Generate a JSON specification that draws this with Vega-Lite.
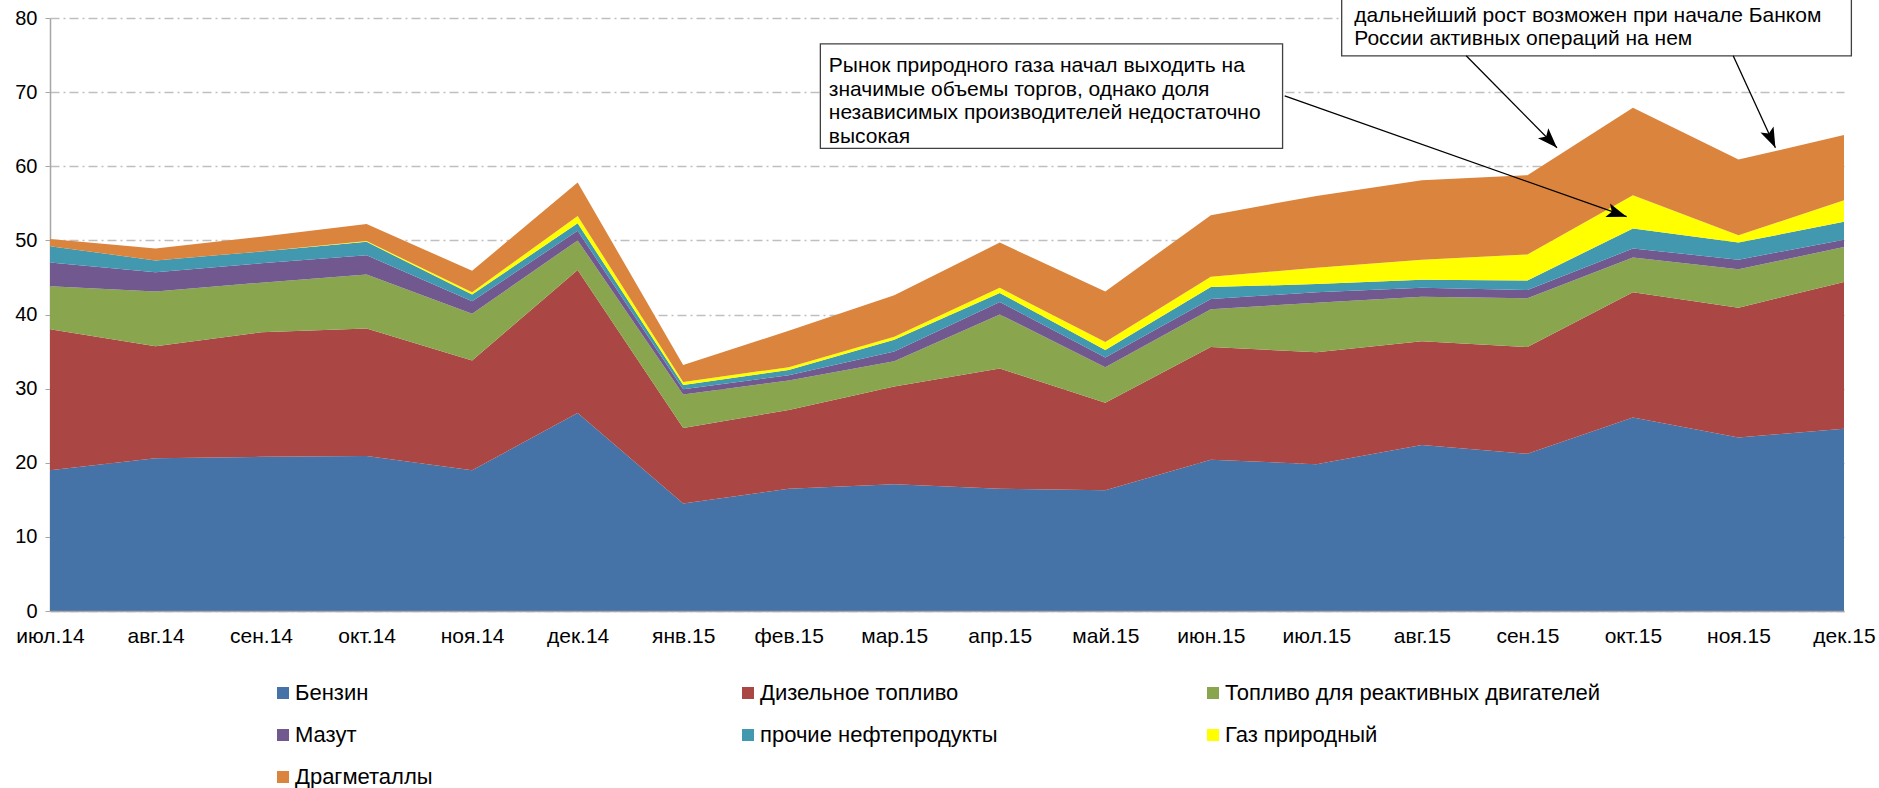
{
  "$schema": "https://vega.github.io/schema/vega-lite/v6.json",
  "width": 1794,
  "height": 593,
  "autosize": {"type": "none"},
  "padding": {"top": 18, "left": 50, "right": 35, "bottom": 177},
  "background": "white",
  "config": {
    "view": {"stroke": null},
    "font": "Liberation Sans",
    "text": {"font": "Liberation Sans"}
  },
  "datasets": {
    "main": [
      {"i":0,"m":"июл.14","k":1,"s":"Бензин","v":19.0},{"i":0,"m":"июл.14","k":2,"s":"Дизельное топливо","v":19.0},{"i":0,"m":"июл.14","k":3,"s":"Топливо для реактивных двигателей","v":5.8},{"i":0,"m":"июл.14","k":4,"s":"Мазут","v":3.2},{"i":0,"m":"июл.14","k":5,"s":"прочие нефтепродукты","v":2.2},{"i":0,"m":"июл.14","k":6,"s":"Газ природный","v":0.0},{"i":0,"m":"июл.14","k":7,"s":"Драгметаллы","v":1.0},
      {"i":1,"m":"авг.14","k":1,"s":"Бензин","v":20.6},{"i":1,"m":"авг.14","k":2,"s":"Дизельное топливо","v":15.1},{"i":1,"m":"авг.14","k":3,"s":"Топливо для реактивных двигателей","v":7.4},{"i":1,"m":"авг.14","k":4,"s":"Мазут","v":2.6},{"i":1,"m":"авг.14","k":5,"s":"прочие нефтепродукты","v":1.6},{"i":1,"m":"авг.14","k":6,"s":"Газ природный","v":0.0},{"i":1,"m":"авг.14","k":7,"s":"Драгметаллы","v":1.6},
      {"i":2,"m":"сен.14","k":1,"s":"Бензин","v":20.8},{"i":2,"m":"сен.14","k":2,"s":"Дизельное топливо","v":16.8},{"i":2,"m":"сен.14","k":3,"s":"Топливо для реактивных двигателей","v":6.7},{"i":2,"m":"сен.14","k":4,"s":"Мазут","v":2.6},{"i":2,"m":"сен.14","k":5,"s":"прочие нефтепродукты","v":1.6},{"i":2,"m":"сен.14","k":6,"s":"Газ природный","v":0.0},{"i":2,"m":"сен.14","k":7,"s":"Драгметаллы","v":2.0},
      {"i":3,"m":"окт.14","k":1,"s":"Бензин","v":20.9},{"i":3,"m":"окт.14","k":2,"s":"Дизельное топливо","v":17.2},{"i":3,"m":"окт.14","k":3,"s":"Топливо для реактивных двигателей","v":7.3},{"i":3,"m":"окт.14","k":4,"s":"Мазут","v":2.6},{"i":3,"m":"окт.14","k":5,"s":"прочие нефтепродукты","v":1.8},{"i":3,"m":"окт.14","k":6,"s":"Газ природный","v":0.1},{"i":3,"m":"окт.14","k":7,"s":"Драгметаллы","v":2.3},
      {"i":4,"m":"ноя.14","k":1,"s":"Бензин","v":19.0},{"i":4,"m":"ноя.14","k":2,"s":"Дизельное топливо","v":14.8},{"i":4,"m":"ноя.14","k":3,"s":"Топливо для реактивных двигателей","v":6.3},{"i":4,"m":"ноя.14","k":4,"s":"Мазут","v":1.7},{"i":4,"m":"ноя.14","k":5,"s":"прочие нефтепродукты","v":0.9},{"i":4,"m":"ноя.14","k":6,"s":"Газ природный","v":0.3},{"i":4,"m":"ноя.14","k":7,"s":"Драгметаллы","v":2.9},
      {"i":5,"m":"дек.14","k":1,"s":"Бензин","v":26.7},{"i":5,"m":"дек.14","k":2,"s":"Дизельное топливо","v":19.3},{"i":5,"m":"дек.14","k":3,"s":"Топливо для реактивных двигателей","v":4.0},{"i":5,"m":"дек.14","k":4,"s":"Мазут","v":1.3},{"i":5,"m":"дек.14","k":5,"s":"прочие нефтепродукты","v":1.0},{"i":5,"m":"дек.14","k":6,"s":"Газ природный","v":1.0},{"i":5,"m":"дек.14","k":7,"s":"Драгметаллы","v":4.5},
      {"i":6,"m":"янв.15","k":1,"s":"Бензин","v":14.5},{"i":6,"m":"янв.15","k":2,"s":"Дизельное топливо","v":10.2},{"i":6,"m":"янв.15","k":3,"s":"Топливо для реактивных двигателей","v":4.5},{"i":6,"m":"янв.15","k":4,"s":"Мазут","v":0.7},{"i":6,"m":"янв.15","k":5,"s":"прочие нефтепродукты","v":0.6},{"i":6,"m":"янв.15","k":6,"s":"Газ природный","v":0.4},{"i":6,"m":"янв.15","k":7,"s":"Драгметаллы","v":2.3},
      {"i":7,"m":"фев.15","k":1,"s":"Бензин","v":16.5},{"i":7,"m":"фев.15","k":2,"s":"Дизельное топливо","v":10.6},{"i":7,"m":"фев.15","k":3,"s":"Топливо для реактивных двигателей","v":4.0},{"i":7,"m":"фев.15","k":4,"s":"Мазут","v":0.7},{"i":7,"m":"фев.15","k":5,"s":"прочие нефтепродукты","v":0.7},{"i":7,"m":"фев.15","k":6,"s":"Газ природный","v":0.4},{"i":7,"m":"фев.15","k":7,"s":"Драгметаллы","v":4.9},
      {"i":8,"m":"мар.15","k":1,"s":"Бензин","v":17.1},{"i":8,"m":"мар.15","k":2,"s":"Дизельное топливо","v":13.2},{"i":8,"m":"мар.15","k":3,"s":"Топливо для реактивных двигателей","v":3.4},{"i":8,"m":"мар.15","k":4,"s":"Мазут","v":1.3},{"i":8,"m":"мар.15","k":5,"s":"прочие нефтепродукты","v":1.6},{"i":8,"m":"мар.15","k":6,"s":"Газ природный","v":0.4},{"i":8,"m":"мар.15","k":7,"s":"Драгметаллы","v":5.6},
      {"i":9,"m":"апр.15","k":1,"s":"Бензин","v":16.5},{"i":9,"m":"апр.15","k":2,"s":"Дизельное топливо","v":16.2},{"i":9,"m":"апр.15","k":3,"s":"Топливо для реактивных двигателей","v":7.3},{"i":9,"m":"апр.15","k":4,"s":"Мазут","v":1.7},{"i":9,"m":"апр.15","k":5,"s":"прочие нефтепродукты","v":1.2},{"i":9,"m":"апр.15","k":6,"s":"Газ природный","v":0.7},{"i":9,"m":"апр.15","k":7,"s":"Драгметаллы","v":6.1},
      {"i":10,"m":"май.15","k":1,"s":"Бензин","v":16.3},{"i":10,"m":"май.15","k":2,"s":"Дизельное топливо","v":11.8},{"i":10,"m":"май.15","k":3,"s":"Топливо для реактивных двигателей","v":4.8},{"i":10,"m":"май.15","k":4,"s":"Мазут","v":1.3},{"i":10,"m":"май.15","k":5,"s":"прочие нефтепродукты","v":1.0},{"i":10,"m":"май.15","k":6,"s":"Газ природный","v":1.1},{"i":10,"m":"май.15","k":7,"s":"Драгметаллы","v":6.8},
      {"i":11,"m":"июн.15","k":1,"s":"Бензин","v":20.4},{"i":11,"m":"июн.15","k":2,"s":"Дизельное топливо","v":15.2},{"i":11,"m":"июн.15","k":3,"s":"Топливо для реактивных двигателей","v":5.1},{"i":11,"m":"июн.15","k":4,"s":"Мазут","v":1.4},{"i":11,"m":"июн.15","k":5,"s":"прочие нефтепродукты","v":1.6},{"i":11,"m":"июн.15","k":6,"s":"Газ природный","v":1.4},{"i":11,"m":"июн.15","k":7,"s":"Драгметаллы","v":8.3},
      {"i":12,"m":"июл.15","k":1,"s":"Бензин","v":19.8},{"i":12,"m":"июл.15","k":2,"s":"Дизельное топливо","v":15.1},{"i":12,"m":"июл.15","k":3,"s":"Топливо для реактивных двигателей","v":6.7},{"i":12,"m":"июл.15","k":4,"s":"Мазут","v":1.4},{"i":12,"m":"июл.15","k":5,"s":"прочие нефтепродукты","v":1.1},{"i":12,"m":"июл.15","k":6,"s":"Газ природный","v":2.2},{"i":12,"m":"июл.15","k":7,"s":"Драгметаллы","v":9.7},
      {"i":13,"m":"авг.15","k":1,"s":"Бензин","v":22.4},{"i":13,"m":"авг.15","k":2,"s":"Дизельное топливо","v":14.0},{"i":13,"m":"авг.15","k":3,"s":"Топливо для реактивных двигателей","v":6.0},{"i":13,"m":"авг.15","k":4,"s":"Мазут","v":1.2},{"i":13,"m":"авг.15","k":5,"s":"прочие нефтепродукты","v":1.1},{"i":13,"m":"авг.15","k":6,"s":"Газ природный","v":2.7},{"i":13,"m":"авг.15","k":7,"s":"Драгметаллы","v":10.7},
      {"i":14,"m":"сен.15","k":1,"s":"Бензин","v":21.2},{"i":14,"m":"сен.15","k":2,"s":"Дизельное топливо","v":14.4},{"i":14,"m":"сен.15","k":3,"s":"Топливо для реактивных двигателей","v":6.6},{"i":14,"m":"сен.15","k":4,"s":"Мазут","v":1.1},{"i":14,"m":"сен.15","k":5,"s":"прочие нефтепродукты","v":1.3},{"i":14,"m":"сен.15","k":6,"s":"Газ природный","v":3.5},{"i":14,"m":"сен.15","k":7,"s":"Драгметаллы","v":10.7},
      {"i":15,"m":"окт.15","k":1,"s":"Бензин","v":26.1},{"i":15,"m":"окт.15","k":2,"s":"Дизельное топливо","v":16.9},{"i":15,"m":"окт.15","k":3,"s":"Топливо для реактивных двигателей","v":4.7},{"i":15,"m":"окт.15","k":4,"s":"Мазут","v":1.2},{"i":15,"m":"окт.15","k":5,"s":"прочие нефтепродукты","v":2.7},{"i":15,"m":"окт.15","k":6,"s":"Газ природный","v":4.5},{"i":15,"m":"окт.15","k":7,"s":"Драгметаллы","v":11.8},
      {"i":16,"m":"ноя.15","k":1,"s":"Бензин","v":23.4},{"i":16,"m":"ноя.15","k":2,"s":"Дизельное топливо","v":17.5},{"i":16,"m":"ноя.15","k":3,"s":"Топливо для реактивных двигателей","v":5.2},{"i":16,"m":"ноя.15","k":4,"s":"Мазут","v":1.3},{"i":16,"m":"ноя.15","k":5,"s":"прочие нефтепродукты","v":2.3},{"i":16,"m":"ноя.15","k":6,"s":"Газ природный","v":1.0},{"i":16,"m":"ноя.15","k":7,"s":"Драгметаллы","v":10.2},
      {"i":17,"m":"дек.15","k":1,"s":"Бензин","v":24.6},{"i":17,"m":"дек.15","k":2,"s":"Дизельное топливо","v":19.8},{"i":17,"m":"дек.15","k":3,"s":"Топливо для реактивных двигателей","v":4.7},{"i":17,"m":"дек.15","k":4,"s":"Мазут","v":1.0},{"i":17,"m":"дек.15","k":5,"s":"прочие нефтепродукты","v":2.4},{"i":17,"m":"дек.15","k":6,"s":"Газ природный","v":2.9},{"i":17,"m":"дек.15","k":7,"s":"Драгметаллы","v":8.8}
    ],
    "one": [{"n": 1}]
  },
  "layer": [
    {
      "data": {"name": "main"},
      "mark": {"type": "area", "opacity": 1},
      "encoding": {
        "x": {
          "field": "i", "type": "quantitative",
          "scale": {"domain": [0, 17], "nice": false, "zero": false},
          "axis": {
            "title": null, "values": [0,1,2,3,4,5,6,7,8,9,10,11,12,13,14,15,16,17],
            "labelExpr": "['июл.14','авг.14','сен.14','окт.14','ноя.14','дек.14','янв.15','фев.15','мар.15','апр.15','май.15','июн.15','июл.15','авг.15','сен.15','окт.15','ноя.15','дек.15'][datum.value]",
            "grid": false, "ticks": false, "domainColor": "#a6a6a6", "domainWidth": 1.5,
            "labelFontSize": 21, "labelColor": "#000000", "labelPadding": 14, "labelFlush": false, "labelOverlap": false, "zindex": 1
          }
        },
        "y": {
          "field": "v", "type": "quantitative", "stack": "zero",
          "scale": {"domain": [0, 80], "nice": false},
          "axis": {
            "title": null, "values": [0,10,20,30,40,50,60,70,80],
            "grid": true, "gridColor": "#bfbfbf", "gridDash": [9, 4, 2, 4], "gridWidth": 1.5,
            "domainColor": "#a6a6a6", "domainWidth": 1.5, "tickColor": "#a6a6a6", "tickSize": 5,
            "labelFontSize": 20, "labelColor": "#000000", "labelPadding": 8
          }
        },
        "order": {"field": "k", "type": "quantitative", "sort": "ascending"},
        "color": {
          "field": "s", "type": "nominal",
          "scale": {
            "domain": ["Бензин", "Дизельное топливо", "Топливо для реактивных двигателей", "Мазут", "прочие нефтепродукты", "Газ природный", "Драгметаллы"],
            "range": ["#4572A7", "#AA4643", "#89A54E", "#71588F", "#4198AF", "#FFFF00", "#DB843D"]
          },
          "legend": {
            "title": null, "orient": "none", "legendX": 222, "legendY": 664, "direction": "horizontal",
            "columns": 3, "gridAlign": "all", "columnPadding": 67, "rowPadding": 20,
            "symbolType": "square", "symbolSize": 144, "symbolStrokeWidth": 0, "symbolOpacity": 1,
            "labelFontSize": 22, "labelColor": "#000000", "labelOffset": 1, "labelLimit": 600
          }
        }
      }
    },
    {
      "data": {"name": "one"},
      "mark": {"type": "rect", "fill": "#ffffff", "stroke": "#404040", "strokeWidth": 1.3},
      "encoding": {
        "x": {"datum": 7.30}, "x2": {"datum": 11.68},
        "y": {"datum": 76.5}, "y2": {"datum": 62.4}
      }
    },
    {
      "data": {"name": "one"},
      "mark": {"type": "rect", "fill": "#ffffff", "stroke": "#404040", "strokeWidth": 1.3},
      "encoding": {
        "x": {"datum": 12.24}, "x2": {"datum": 17.07},
        "y": {"datum": 90}, "y2": {"datum": 74.9}
      }
    },
    {
      "data": {"name": "one"},
      "mark": {
        "type": "text", "align": "left", "baseline": "middle", "fontSize": 21, "lineHeight": 23.5, "color": "#000000",
        "text": ["Рынок природного газа начал выходить на", "значимые объемы торгов, однако доля", "независимых производителей недостаточно", "высокая"]
      },
      "encoding": {"x": {"datum": 7.38}, "y": {"datum": 73.5}}
    },
    {
      "data": {"name": "one"},
      "mark": {
        "type": "text", "align": "left", "baseline": "middle", "fontSize": 21, "lineHeight": 23.5, "color": "#000000",
        "text": ["дальнейший рост возможен при начале Банком", "России активных операций на нем"]
      },
      "encoding": {"x": {"datum": 12.36}, "y": {"datum": 80.3}}
    },
    {
      "data": {"name": "one"},
      "mark": {"type": "rule", "color": "#000000", "strokeWidth": 1.3},
      "encoding": {"x": {"datum": 11.70}, "y": {"datum": 69.5}, "x2": {"datum": 14.94}, "y2": {"datum": 53.2}}
    },
    {
      "data": {"name": "one"},
      "mark": {"type": "rule", "color": "#000000", "strokeWidth": 1.3},
      "encoding": {"x": {"datum": 13.42}, "y": {"datum": 74.9}, "x2": {"datum": 14.28}, "y2": {"datum": 62.5}}
    },
    {
      "data": {"name": "one"},
      "mark": {"type": "rule", "color": "#000000", "strokeWidth": 1.3},
      "encoding": {"x": {"datum": 15.95}, "y": {"datum": 74.9}, "x2": {"datum": 16.35}, "y2": {"datum": 62.5}}
    },
    {
      "data": {"name": "one"},
      "mark": {"type": "point", "shape": "M0,0L-0.36,1L0,0.78L0.36,1Z", "filled": true, "color": "#000000", "opacity": 1, "size": 1600, "angle": 108.8},
      "encoding": {"x": {"datum": 14.94}, "y": {"datum": 53.2}}
    },
    {
      "data": {"name": "one"},
      "mark": {"type": "point", "shape": "M0,0L-0.36,1L0,0.78L0.36,1Z", "filled": true, "color": "#000000", "opacity": 1, "size": 1600, "angle": 136.2},
      "encoding": {"x": {"datum": 14.28}, "y": {"datum": 62.5}}
    },
    {
      "data": {"name": "one"},
      "mark": {"type": "point", "shape": "M0,0L-0.36,1L0,0.78L0.36,1Z", "filled": true, "color": "#000000", "opacity": 1, "size": 1600, "angle": 155.2},
      "encoding": {"x": {"datum": 16.35}, "y": {"datum": 62.5}}
    }
  ]
}
